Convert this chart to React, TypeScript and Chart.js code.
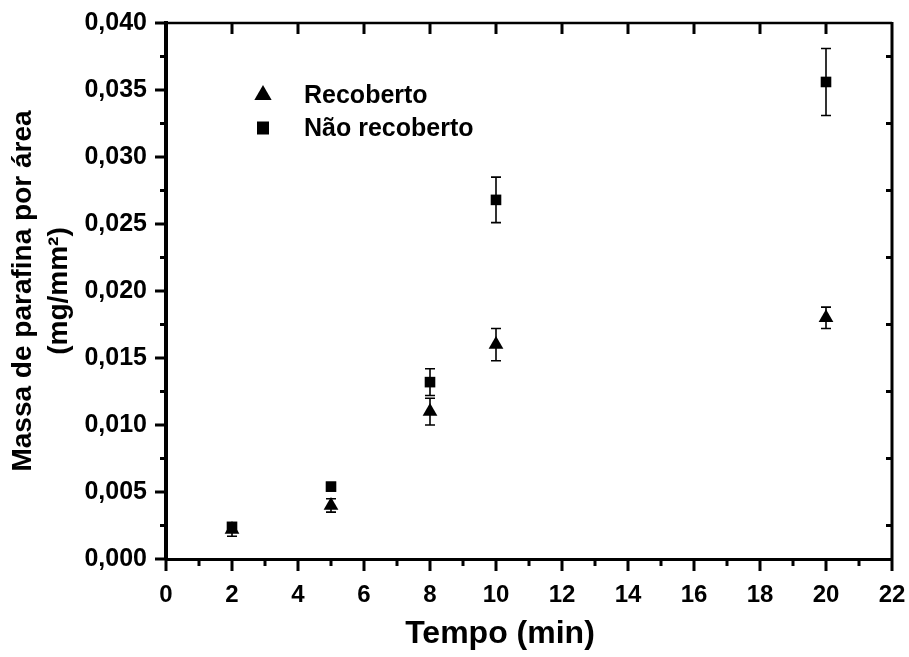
import React, { useEffect, useRef } from 'react';
import { Chart, registerables } from 'chart.js';

Chart.register(...registerables);

// ---- data ----
const times = [2, 5, 8, 10, 20];
const recoberto = [0.0022, 0.004, 0.011, 0.016, 0.018];
const recobertoErr = [0.0005, 0.0005, 0.001, 0.0012, 0.0008];
const naoRecoberto = [0.0024, 0.0054, 0.0132, 0.0268, 0.0356];
const naoRecobertoErr = [0.0003, 0.0003, 0.001, 0.0017, 0.0025];
const seriesNames = ['Recoberto', 'Não recoberto'];
const xTitle = 'Tempo (min)';
const yTitle = ['Massa de parafina por área', '(mg/mm²)'];
const xMin = 0, xMax = 22, xStep = 2;
const yMin = 0, yMax = 0.04, yStep = 0.005;

const FONT = "'Liberation Sans', Arial, sans-serif";

const errors = [recobertoErr, naoRecobertoErr];

const errorBarPlugin = {
  id: 'errorBars',
  beforeDatasetsDraw(chart: any) {
    const ctx = chart.ctx;
    const xs = chart.scales.x;
    const ys = chart.scales.y;
    ctx.save();
    ctx.strokeStyle = '#000';
    ctx.lineWidth = 1.6;
    chart.data.datasets.forEach((ds: any, i: number) => {
      const errs = errors[i];
      ds.data.forEach((p: any, j: number) => {
        const px = xs.getPixelForValue(p.x);
        const top = ys.getPixelForValue(p.y + errs[j]);
        const bot = ys.getPixelForValue(p.y - errs[j]);
        ctx.beginPath();
        ctx.moveTo(px, top);
        ctx.lineTo(px, bot);
        ctx.moveTo(px - 5, top);
        ctx.lineTo(px + 5, top);
        ctx.moveTo(px - 5, bot);
        ctx.lineTo(px + 5, bot);
        ctx.stroke();
      });
    });
    ctx.restore();
  },
};

const axesPlugin = {
  id: 'axesDeco',
  afterDraw(chart: any) {
    const ctx = chart.ctx;
    const xs = chart.scales.x;
    const ys = chart.scales.y;
    const a = chart.chartArea;
    ctx.save();
    ctx.strokeStyle = '#000';
    // top & right frame
    ctx.lineWidth = 2.5;
    ctx.beginPath();
    ctx.moveTo(a.left, a.top);
    ctx.lineTo(a.right, a.top);
    ctx.stroke();
    ctx.lineWidth = 3;
    ctx.beginPath();
    ctx.moveTo(a.right, a.top - 1);
    ctx.lineTo(a.right, a.bottom);
    ctx.stroke();

    ctx.lineWidth = 3;
    // bottom ticks (outward) and top ticks (inward)
    for (let v = xMin; v <= xMax; v += 1) {
      const px = xs.getPixelForValue(v);
      const major = v % 2 === 0;
      ctx.beginPath();
      ctx.moveTo(px, a.bottom);
      ctx.lineTo(px, a.bottom + (major ? 12 : 7));
      ctx.stroke();
      if (major && v > xMin && v < xMax) {
        ctx.beginPath();
        ctx.moveTo(px, a.top);
        ctx.lineTo(px, a.top + 11);
        ctx.stroke();
      }
    }
    // left ticks (outward), right ticks (inward, offset)
    const n = Math.round((yMax - yMin) / (yStep / 2));
    for (let k = 0; k <= n; k++) {
      const v = yMin + k * yStep / 2;
      const py = ys.getPixelForValue(v);
      const major = k % 2 === 0;
      ctx.beginPath();
      ctx.moveTo(a.left, py);
      ctx.lineTo(a.left - (major ? 11 : 6), py);
      ctx.stroke();
      if (!major) {
        ctx.beginPath();
        ctx.moveTo(a.right, py);
        ctx.lineTo(a.right - 6, py);
        ctx.stroke();
      }
    }

    ctx.fillStyle = '#000';
    // x axis title
    ctx.font = `bold 32px ${FONT}`;
    ctx.textBaseline = 'middle';
    ctx.textAlign = 'center';
    ctx.fillText(xTitle, 500, 634);

    // legend
    const lx = 263;
    const ly = [95, 128];
    const r = 10;
    ctx.beginPath();
    ctx.moveTo(lx, ly[0] - r);
    ctx.lineTo(lx + r * Math.sin((2 * Math.PI) / 3), ly[0] + r / 2);
    ctx.lineTo(lx - r * Math.sin((2 * Math.PI) / 3), ly[0] + r / 2);
    ctx.closePath();
    ctx.fill();
    ctx.fillRect(lx - 6, ly[1] - 6.5, 12, 13);
    ctx.font = `bold 25px ${FONT}`;
    ctx.textAlign = 'left';
    ctx.fillText(seriesNames[0], 304, ly[0] + 1);
    ctx.fillText(seriesNames[1], 304, ly[1] + 1);
    ctx.restore();
  },
};

export default function App() {
  const ref = useRef<HTMLCanvasElement | null>(null);
  useEffect(() => {
    if (!ref.current) return;
    const chart = new Chart(ref.current, {
      type: 'scatter',
      data: {
        datasets: [
          {
            label: seriesNames[0],
            data: times.map((t, i) => ({ x: t, y: recoberto[i] })),
            pointStyle: 'triangle',
            pointRadius: 8.5,
            pointHoverRadius: 8.5,
            backgroundColor: '#000',
            borderColor: '#000',
            borderWidth: 0,
          },
          {
            label: seriesNames[1],
            data: times.map((t, i) => ({ x: t, y: naoRecoberto[i] })),
            pointStyle: 'rect',
            pointRadius: 7.5,
            pointHoverRadius: 7.5,
            backgroundColor: '#000',
            borderColor: '#000',
            borderWidth: 0,
          },
        ],
      },
      options: {
        animation: false,
        responsive: true,
        maintainAspectRatio: false,
        layout: { padding: { top: 23, right: 17, left: 0, bottom: 0 } },
        plugins: {
          legend: { display: false },
          tooltip: { enabled: false },
        },
        scales: {
          x: {
            type: 'linear',
            min: xMin,
            max: xMax,
            afterFit: (s: any) => {
              s.height = 98;
              s.paddingLeft = 0;
              s.paddingRight = 0;
            },
            ticks: {
              stepSize: xStep,
              color: '#000',
              font: { family: FONT, size: 24, weight: 'bold' },
              padding: 22,
              maxRotation: 0,
            },
            grid: { display: false, drawTicks: false },
            border: { display: true, color: '#000', width: 3 },
            title: { display: false },
          },
          y: {
            type: 'linear',
            min: yMin,
            max: yMax,
            afterFit: (s: any) => {
              s.width = 166;
              s.paddingTop = 0;
              s.paddingBottom = 0;
            },
            ticks: {
              stepSize: yStep,
              color: '#000',
              font: { family: FONT, size: 25, weight: 'bold' },
              padding: 19,
              callback: (v: any) => Number(v).toFixed(3).replace('.', ','),
            },
            grid: { display: false, drawTicks: false },
            border: { display: true, color: '#000', width: 4 },
            title: {
              display: true,
              text: yTitle,
              color: '#000',
              font: { family: FONT, size: 28, weight: 'bold', lineHeight: 1.3 },
              padding: { top: 5, bottom: 0 },
            },
          },
        },
      },
      plugins: [errorBarPlugin, axesPlugin],
    });
    return () => chart.destroy();
  }, []);
  return (
    <div style={{ position: 'fixed', left: 0, top: 0, width: 909, height: 657, background: '#fff' }}>
      <canvas ref={ref} />
    </div>
  );
}
